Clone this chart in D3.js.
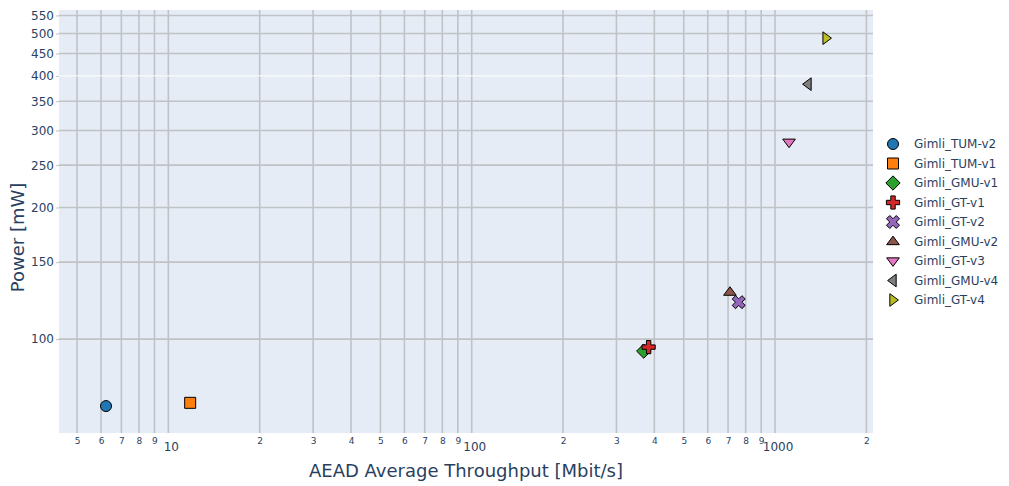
<!DOCTYPE html>
<html><head><meta charset="utf-8">
<script src="https://cdn.jsdelivr.net/npm/d3@7"></script>
<style>body{margin:0;background:#fff;} text{font-family:"DejaVu Sans",Verdana,sans-serif;}</style>
</head><body><svg id="c" width="1009" height="486"></svg>
<script>
const names = ["Gimli_TUM-v2","Gimli_TUM-v1","Gimli_GMU-v1","Gimli_GT-v1","Gimli_GT-v2","Gimli_GMU-v2","Gimli_GT-v3","Gimli_GMU-v4","Gimli_GT-v4"];
const throughput = [6.23, 11.8, 369, 383, 759, 710, 1112, 1284, 1473];
const power = [70.3, 71.5, 93.9, 95.9, 121.5, 128.1, 282, 383, 488];
const colors = ["#1f77b4","#ff7f0e","#2ca02c","#d62728","#9467bd","#8c564b","#e377c2","#7f7f7f","#bcbd22"];
const symbols = ["circle","square","diamond","cross","x","triangle-up","triangle-down","triangle-left","triangle-right"];
const yTicks = [100,150,200,250,300,350,400,450,500,550];
const xTicks = [5,6,7,8,9,10,20,30,40,50,60,70,80,90,100,200,300,400,500,600,700,800,900,1000,2000];
const xDomain = [4.36, 2103];
const yDomain = [61, 566];

const svg = d3.select("#c");
const L = 59, R = 873, T = 10, B = 433;
const x = d3.scaleLog().domain(xDomain).range([L, R]);
const y = d3.scaleLog().domain(yDomain).range([B, T]);

svg.append("rect").attr("x", L).attr("y", T).attr("width", R-L).attr("height", B-T).attr("fill", "#e5ecf6");

const grid = svg.append("g");
grid.selectAll("line.v").data(xTicks).join("line")
  .attr("x1", d => x(d)).attr("x2", d => x(d)).attr("y1", T).attr("y2", B)
  .attr("stroke", "#c0c2c6").attr("stroke-width", 1.6);
grid.selectAll("line.h").data(yTicks).join("line")
  .attr("x1", L).attr("x2", R).attr("y1", d => y(d)).attr("y2", d => y(d))
  .attr("stroke", d => d === 400 ? "#ffffff" : "#c0c2c6").attr("stroke-width", d => d === 400 ? 1 : 1.6);

// y axis
const yAxis = d3.axisLeft(y).tickValues(yTicks).tickFormat(d3.format("d")).tickSize(3).tickPadding(2);
const ya = svg.append("g").attr("transform", `translate(${L},0)`).call(yAxis);
ya.select(".domain").remove();
ya.selectAll("line").attr("stroke", "#c0c2c6");
ya.selectAll("text").attr("fill", "#2a3f5f").style("font-size", "12px").style("font-family", '"DejaVu Sans"');

// x axis
const isMajor = d => Math.abs(Math.log10(d) - Math.round(Math.log10(d))) < 1e-9;
const xAxis = d3.axisBottom(x).tickValues(xTicks).tickSize(0).tickPadding(0)
  .tickFormat(d => isMajor(d) ? String(d) : String(d / Math.pow(10, Math.floor(Math.log10(d)))));
const xa = svg.append("g").attr("transform", `translate(0,${B})`).call(xAxis);
xa.select(".domain").remove();
xa.selectAll("text").attr("fill", "#2a3f5f").style("font-family", '"DejaVu Sans"')
  .attr("dy", null)
  .each(function(d){
    const t = d3.select(this);
    if (isMajor(d)) { t.style("font-size", "12px").attr("y", 18).attr("x", 2.5).attr("text-anchor", "middle"); }
    else { t.style("font-size", "9px").attr("y", 11); }
  });

// titles
svg.append("text").attr("x", (L+R)/2 + 0).attr("y", 477).attr("text-anchor", "middle")
  .attr("fill", "#2a3f5f").style("font-size", "18px").text("AEAD Average Throughput [Mbit/s]");
svg.append("text").attr("transform", `translate(24,${(T+B)/2 + 16}) rotate(-90)`).attr("text-anchor", "middle")
  .attr("fill", "#2a3f5f").style("font-size", "18px").text("Power [mW]");

// symbols
function sym(name, s) {
  const h = s/2;
  switch(name) {
    case "circle": return d3.symbol(d3.symbolCircle, Math.PI*h*h)();
    case "square": return `M${-h},${-h}H${h}V${h}H${-h}Z`;
    case "diamond": { const r = h*1.3; return `M${r},0L0,${r}L${-r},0L0,${-r}Z`; }
    case "cross": { const a = h*1.2, b = h*0.4; return `M${a},${b}H${b}V${a}H${-b}V${b}H${-a}V${-b}H${-b}V${-a}H${b}V${-b}H${a}Z`; }
    case "triangle-up": { const r = h*1.15; return `M${-r},${r*0.5}H${r}L0,${-r*0.85}Z`; }
    case "triangle-down": { const r = h*1.15; return `M${-r},${-r*0.5}H${r}L0,${r*0.85}Z`; }
    case "triangle-left": { const r = h*1.15; return `M${r*0.5},${-r}V${r}L${-r*0.85},0Z`; }
    case "triangle-right": { const r = h*1.15; return `M${-r*0.5},${-r}V${r}L${r*0.85},0Z`; }
  }
}
function xPath(h) {
  const a = h*1.25, b = h*0.42;
  const cross = [[a,b],[b,b],[b,a],[-b,a],[-b,b],[-a,b],[-a,-b],[-b,-b],[-b,-a],[b,-a],[b,-b],[a,-b]];
  const cs = Math.SQRT1_2;
  return "M" + cross.map(([px,py]) => [(px-py)*cs, (px+py)*cs].map(v=>v.toFixed(2)).join(",")).join("L") + "Z";
}
function path(name, s) { return name === "x" ? xPath(s/2) : sym(name, s); }

const pts = svg.append("g");
names.forEach((n, i) => {
  pts.append("path").attr("d", path(symbols[i], 11))
    .attr("transform", `translate(${x(throughput[i])},${y(power[i])})`)
    .attr("fill", colors[i]).attr("stroke", "#000").attr("stroke-width", 1);
});

// legend
const lg = svg.append("g");
names.forEach((n, i) => {
  const yy = 144 + i*19.5;
  lg.append("path").attr("d", path(symbols[i], 11)).attr("transform", `translate(893,${yy})`)
    .attr("fill", colors[i]).attr("stroke", "#000").attr("stroke-width", 1);
  lg.append("text").attr("x", 914).attr("y", yy).attr("dy", "0.35em").attr("fill", "#2a3f5f")
    .style("font-size", "12px").text(n);
});
</script></body></html>
